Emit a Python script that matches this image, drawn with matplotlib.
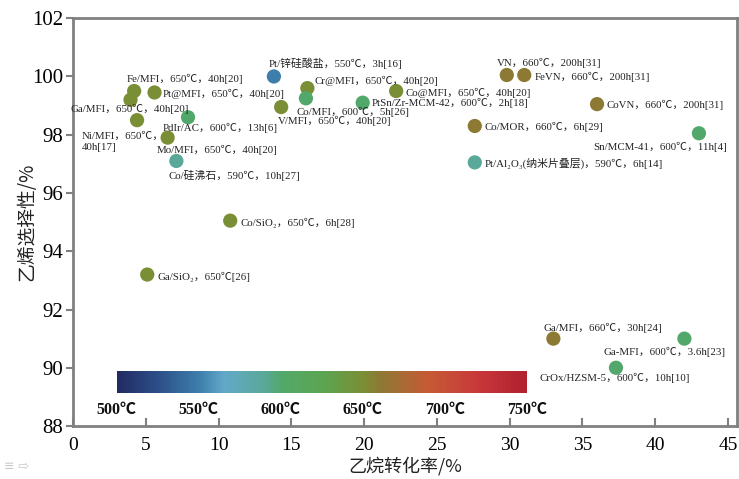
import matplotlib
matplotlib.use("Agg")
import matplotlib.pyplot as plt
from matplotlib.colors import LinearSegmentedColormap, Normalize
from matplotlib.cm import ScalarMappable

plt.rcParams['font.family'] = ['Liberation Serif', 'Noto Sans CJK SC', 'DejaVu Sans']

# ---- data ----
labels = [
    "Pt/锌硅酸盐，550℃，3h[16]",
    "Fe/MFI，650℃，40h[20]",
    "Pt@MFI，650℃，40h[20]",
    "Ga/MFI，650℃，40h[20]",
    "PdIr/AC，600℃，13h[6]",
    "Ni/MFI，650℃，\n40h[17]",
    "Mo/MFI，650℃，40h[20]",
    "Co/硅沸石，590℃，10h[27]",
    "Co/SiO₂，650℃，6h[28]",
    "Ga/SiO₂，650℃[26]",
    "Cr@MFI，650℃，40h[20]",
    "Co/MFI，600℃，5h[26]",
    "V/MFI，650℃，40h[20]",
    "Co@MFI，650℃，40h[20]",
    "PtSn/Zr-MCM-42，600℃，2h[18]",
    "VN，660℃，200h[31]",
    "FeVN，660℃，200h[31]",
    "CoVN，660℃，200h[31]",
    "Co/MOR，660℃，6h[29]",
    "Sn/MCM-41，600℃，11h[4]",
    "Pt/Al₂O₃(纳米片叠层)，590℃，6h[14]",
    "Ga/MFI，660℃，30h[24]",
    "Ga-MFI，600℃，3.6h[23]",
    "CrOx/HZSM-5，600℃，10h[10]",
]
conversion = [13.8, 4.2, 5.6, 3.95, 7.9, 4.4, 6.5, 7.1, 10.8, 5.1, 16.1, 16.0, 14.3,
              22.2, 19.9, 29.8, 31.0, 36.0, 27.6, 43.0, 27.6, 33.0, 42.0, 37.3]
selectivity = [100.0, 99.5, 99.45, 99.2, 98.6, 98.5, 97.9, 97.1, 95.05, 93.2, 99.6, 99.25, 98.95,
               99.5, 99.1, 100.05, 100.05, 99.05, 98.3, 98.05, 97.05, 91.0, 91.0, 90.0]
temperature = [550, 650, 650, 650, 600, 650, 650, 590, 650, 650, 650, 600, 650,
               650, 600, 660, 660, 660, 660, 600, 590, 660, 600, 600]

x_ticks = [0, 5, 10, 15, 20, 25, 30, 35, 40, 45]
y_ticks = [88, 90, 92, 94, 96, 98, 100, 102]
cbar_ticks = [500, 550, 600, 650, 700, 750]
cbar_ticklabels = ["500℃", "550℃", "600℃", "650℃", "700℃", "750℃"]

# label text positions (layout)
label_pos = [
    (13.45, 100.46), (3.69, 99.91), (6.14, 99.39), (-0.2, 98.88), (6.14, 98.23),
    (0.61, 97.75), (5.73, 97.47), (6.55, 96.61), (11.54, 94.97), (5.80, 93.11),
    (16.59, 99.84), (15.36, 98.78), (14.06, 98.47), (22.87, 99.43), (20.55, 99.08),
    (29.15, 100.46), (31.74, 99.98), (36.66, 99.02), (28.26, 98.26), (35.77, 97.57),
    (28.26, 97.03), (32.35, 91.36), (36.45, 90.54), (32.08, 89.65),
]

cmap = LinearSegmentedColormap.from_list("temp", [
    (0.00, "#222a62"),
    (0.10, "#2c4f88"),
    (0.20, "#3d7eab"),
    (0.26, "#62a8c8"),
    (0.36, "#5aa898"),
    (0.40, "#52a86a"),
    (0.50, "#5aa552"),
    (0.60, "#7a8f35"),
    (0.64, "#8c7a34"),
    (0.76, "#c65a35"),
    (0.88, "#c8383a"),
    (1.00, "#b0202e"),
])
norm = Normalize(vmin=500, vmax=750)

fig = plt.figure(figsize=(7.39, 4.79), dpi=100)
ax = fig.add_axes([0.0988, 0.1106, 0.8982, 0.8514])

ax.scatter(conversion, selectivity, c=temperature, cmap=cmap, norm=norm,
           s=105, edgecolors='none', zorder=3)

for txt, (tx, ty) in zip(labels, label_pos):
    ax.text(tx, ty, txt, fontsize=7.8, ha='left', va='center', color='#222222',
            zorder=4, linespacing=1.3)

ax.set_xlim(0, 45.6)
ax.set_ylim(88, 102)
ax.set_xticks(x_ticks)
ax.set_yticks(y_ticks)
ax.tick_params(axis='x', direction='in', length=6, width=1.5, color='#808080',
               labelsize=14, pad=8)
ax.tick_params(axis='y', direction='out', length=5, width=1.5, color='#808080',
               labelsize=15, pad=2)
for sp in ax.spines.values():
    sp.set_color('#808080')
    sp.set_linewidth(2)

ax.set_xlabel("乙烷转化率/%", fontsize=13, family=['Noto Sans CJK SC', 'DejaVu Sans'],
              labelpad=2, color='#222222')
ax.set_ylabel("乙烯选择性/%", fontsize=13.5, family=['Noto Sans CJK SC', 'DejaVu Sans'],
              labelpad=-4, color='#222222')

# colorbar inside the axes
cax = ax.inset_axes([3.0, 89.13, 28.2, 0.76], transform=ax.transData)
cb = fig.colorbar(ScalarMappable(norm=norm, cmap=cmap), cax=cax, orientation='horizontal')
cb.outline.set_visible(False)
cb.set_ticks(cbar_ticks)
cb.set_ticklabels(cbar_ticklabels)
cax.tick_params(length=0, pad=6)
for t in cax.get_xticklabels():
    t.set_fontsize(11.5)
    t.set_fontweight('bold')
    t.set_color('#111111')

fig.text(0.005, 0.018, "≡ ⇨", fontsize=9, color='#c8c8c8', family='DejaVu Sans')

fig.savefig("out.png", dpi=100)
